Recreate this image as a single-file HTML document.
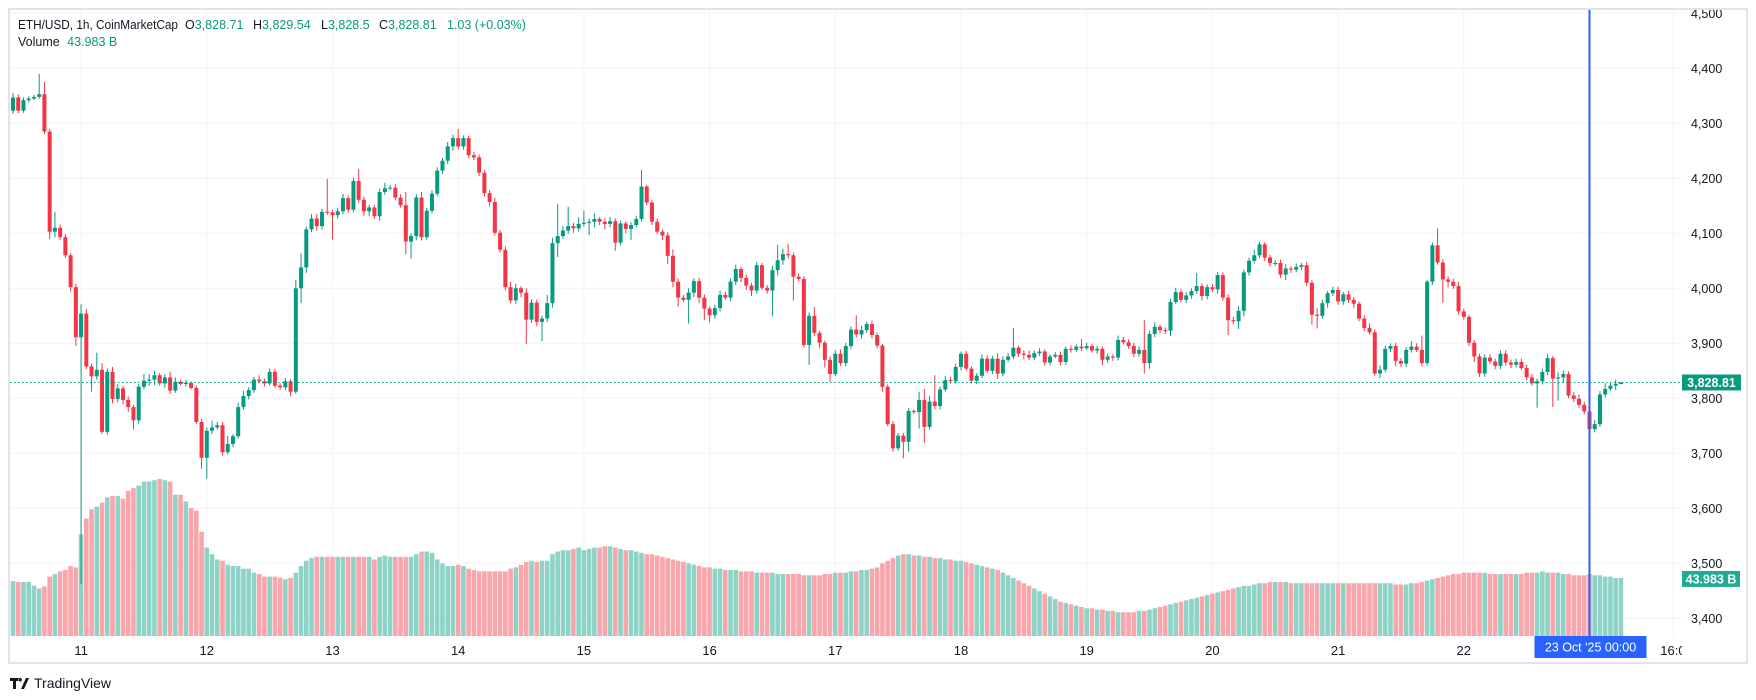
<!DOCTYPE html>
<html><head><meta charset="utf-8">
<style>
html,body{margin:0;padding:0;background:#fff;}
body{width:1756px;height:700px;overflow:hidden;font-family:"Liberation Sans",sans-serif;}
svg{display:block;}
</style></head>
<body>
<svg id="chart" width="1756" height="700" viewBox="0 0 1756 700" xmlns="http://www.w3.org/2000/svg">
  <rect x="0" y="0" width="1756" height="700" fill="#ffffff"/>
  <g id="grid"></g>
  <g id="vol"></g>
  <g id="candles"></g>
  <g id="overlay"></g>
  <g id="axes"></g>
  <rect x="9" y="9" width="1738" height="654" fill="none" stroke="#e0e3eb" stroke-width="2"/>
  <g font-size="12.5">
    <text x="18" y="29" fill="#131722" textLength="160" lengthAdjust="spacingAndGlyphs">ETH/USD, 1h, CoinMarketCap</text>
    <text y="29"><tspan x="185" fill="#131722">O</tspan><tspan fill="#089981">3,828.71</tspan><tspan x="253" fill="#131722">H</tspan><tspan fill="#089981">3,829.54</tspan><tspan x="321" fill="#131722">L</tspan><tspan fill="#089981">3,828.5</tspan><tspan x="379" fill="#131722">C</tspan><tspan fill="#089981">3,828.81</tspan><tspan x="447" fill="#089981">1.03 (+0.03%)</tspan></text>
    <text x="18" y="46" fill="#131722">Volume <tspan fill="#089981" dx="4">43.983 B</tspan></text>
  </g>
  <g>
    <path d="M10 678h9v3h-3v8h-3v-8h-3z M21 689l5-11h3l-5 11z M20 678a1.8 1.8 0 1 0 0.1 0z" fill="#131722"/>
    <text x="34" y="688" font-size="14" fill="#131722">TradingView</text>
  </g>
</svg>
<script>
const closes=[4347,4323,4342,4345,4348,4353,4285,4103,4110,4093,
4060,4002,3911,3954,3858,3840,3852,3739,3848,3799,
3818,3797,3784,3760,3821,3832,3834,3842,3827,3838,
3814,3830,3826,3828,3819,3757,3692,3741,3747,3751,
3702,3717,3731,3784,3804,3815,3834,3831,3827,3848,
3823,3820,3831,3812,4000,4038,4107,4127,4113,4139,
4138,4133,4140,4164,4143,4195,4161,4140,4147,4131,
4175,4182,4183,4165,4151,4085,4095,4165,4093,4141,
4172,4214,4232,4258,4273,4258,4273,4242,4238,4210,
4173,4157,4101,4070,4002,3978,4000,3992,3943,3974,
3939,3945,3973,4082,4095,4105,4113,4109,4117,4119,
4121,4126,4121,4117,4122,4083,4118,4108,4115,4126,
4185,4156,4121,4103,4096,4059,4012,3983,3979,3992,
4013,3983,3963,3951,3964,3988,3983,4012,4035,4019,
4005,3996,4042,4001,3996,4033,4051,4062,4060,4021,
4017,3897,3950,3919,3901,3870,3844,3881,3864,3895,
3925,3916,3924,3935,3915,3896,3821,3753,3709,3732,
3721,3777,3775,3797,3748,3794,3786,3816,3833,3831,
3857,3881,3854,3832,3841,3872,3850,3872,3845,3870,
3876,3892,3881,3879,3874,3882,3885,3865,3876,3879,
3866,3890,3888,3894,3891,3895,3887,3890,3870,3876,
3874,3906,3902,3895,3881,3888,3864,3917,3930,3924,
3923,3975,3993,3979,3987,3995,4004,3986,4002,3998,
4024,3983,3942,3940,3959,4029,4050,4060,4080,4056,
4046,4046,4025,4036,4034,4039,4042,4010,3952,3950,
3973,3991,3997,3976,3989,3979,3972,3945,3928,3920,
3845,3852,3890,3895,3868,3863,3888,3894,3888,3864,
4012,4078,4047,4016,4012,4004,3958,3948,3901,3876,
3845,3874,3867,3859,3881,3865,3861,3866,3855,3838,
3827,3831,3848,3873,3836,3838,3844,3805,3799,3788,
3776,3744,3753,3807,3817,3823,3826,3828.81];
const firstOpen=4323;
const upWick=[8,6,5,4,4,37,22,5,29,6,
6,4,6,17,8,5,31,12,6,9,
8,5,6,4,5,12,10,8,4,6,
10,8,4,5,3,4,5,6,12,6,
6,15,4,8,10,5,5,8,5,6,
6,4,6,4,15,25,5,8,8,6,
60,5,6,8,5,6,22,6,5,5,
6,10,5,6,6,24,5,6,10,5,
6,6,5,8,6,17,5,4,6,5,
5,6,8,5,6,10,8,4,8,6,
6,5,15,10,58,8,35,6,12,22,
6,10,4,6,8,5,5,4,5,6,
30,3,4,6,4,6,12,6,5,8,
5,6,6,4,6,8,6,6,8,4,
6,5,6,4,5,8,28,10,19,5,
6,5,6,16,4,4,6,6,8,6,
6,26,8,4,6,4,3,4,6,5,
5,5,3,15,20,10,48,5,8,6,
6,4,5,4,5,8,6,5,10,6,
6,36,4,6,8,5,6,4,4,5,
6,4,6,4,14,6,4,5,4,5,
4,8,6,5,6,6,54,6,8,4,
5,6,8,6,6,5,24,5,5,6,
6,5,6,6,8,5,6,10,4,4,
5,5,6,8,4,6,4,6,5,12,
6,4,6,6,4,6,5,4,6,8,
5,8,6,5,6,5,5,10,6,26,
3,5,31,6,6,5,8,5,4,5,
5,6,6,5,6,6,5,6,6,6,
6,5,6,8,4,10,6,5,6,8,
6,6,8,6,10,6,8,0.7];
const downWick=[6,5,4,4,3,3,5,14,10,5,
5,8,16,449,5,28,6,4,5,8,
6,8,9,17,6,5,9,10,4,8,
6,4,3,5,3,4,20,38,6,4,
6,4,6,4,5,6,5,4,6,4,
4,5,5,8,4,27,10,5,8,6,
5,44,6,5,6,5,5,8,9,5,
8,5,4,5,4,23,31,8,6,5,
4,5,6,6,8,5,6,5,5,6,
6,8,5,5,6,5,6,8,44,6,
8,35,6,8,25,5,6,8,6,5,
22,10,6,10,6,15,5,8,20,4,
5,5,6,4,8,15,10,16,4,43,
8,10,21,13,6,6,4,6,6,8,
8,10,6,4,6,46,10,8,6,43,
4,5,36,6,10,14,14,4,5,6,
5,6,8,5,6,5,9,4,6,4,
30,18,4,30,29,5,6,6,4,4,
4,6,4,5,6,4,4,6,10,5,
4,5,6,8,5,5,5,6,5,3,
6,5,5,4,5,3,4,6,10,5,
6,5,4,5,6,5,19,10,6,6,
6,10,4,5,6,6,5,8,6,5,
8,6,27,5,14,10,6,5,5,6,
6,5,6,10,6,5,6,6,18,23,
5,8,5,6,6,5,8,5,6,4,
4,8,5,6,10,6,6,5,4,6,
5,6,4,42,10,5,6,5,6,10,
6,6,5,6,6,6,6,5,4,5,
4,44,6,6,52,40,10,5,6,5,
5,26,6,5,6,4,8,0.3];
const volumes=[41.6,41,41,41,38,36,37.5,45,47,49,
50,53,52,77,89,96,98,101,105,106,
106,104,110,112,114,117,117,118,119,118,
117,107,107,102,97,95,79,67,62,58,
57,54,53,53,51,51,48,47,45,45,
45,44,43,44,48,53,57,59,60,60,
60,60,60,60,60,60,60,60,60,58,
60,61,60,60,60,60,60,62,64,64,
63,58,55,53,53,54,53,51,50,49,
49,49,49,49,49,51,52,54,56,57,
56,57,57,62,64,65,65,66,67,65,
66,67,67,68,68,67,66,65,65,64,
63,62,62,61,60,59,58,57,56,55,
54,53,52,52,51,51,50,50,50,49,
49,49,48,48,48,48,47,47,47,47,
47,46,46,46,46,47,47,48,48,48,
49,49,50,50,51,52,55,57,59,61,
62,62,61,61,60,60,59,59,58,58,
57,57,56,55,54,53,52,51,50,48,
46,44,42,40,38,36,34,32,30,28,
26,25,24,23,22,21,21,20,20,19,
19,18,18,18,18,19,19,20,21,22,
23,24,25,26,27,28,29,30,31,32,
33,34,35,36,37,38,38,39,40,40,
41,41,41,41,40,40,40,40,40,40,
40,40,40,40,40,40,40,40,40,40,
40,40,40,40,39,39,39,40,40,41,
42,43,44,45,46,47,47,48,48,48,
48,48,47,47,47,47,47,47,47,48,
48,48,49,48,48,48,47,47,46,46,
46,47,46,46,45,45,44,43.983];
const priceTicks=[3400,3500,3600,3700,3800,3900,4000,4100,4200,4300,4400,4500];
const dayLabels=["11","12","13","14","15","16","17","18","19","20","21","22"];
const firstDayIndex=13;
const lastPrice=3828.81;
const lastVolume=43.983;

const NS="http://www.w3.org/2000/svg";
const X0=13.0, STEP=5.2375, PLOT_RIGHT=1682, PLOT_BOTTOM=636;
function xScale(i){return X0+i*STEP;}
function yScale(p){return 398.3-(p-3800)*0.55;}
function vScale(v){return PLOT_BOTTOM-v*1.32;}
function mk(tag,attrs,parent){const e=document.createElementNS(NS,tag);for(const k in attrs)e.setAttribute(k,attrs[k]);parent.appendChild(e);return e;}
const G=document.getElementById('grid'),V=document.getElementById('vol'),C=document.getElementById('candles'),O=document.getElementById('overlay'),A=document.getElementById('axes');

priceTicks.forEach(p=>{
  const y=yScale(p);
  const l=mk('line',{x1:10,x2:PLOT_RIGHT,y1:y,y2:y,stroke:'#f0f3fa','stroke-width':1},G);
  
  
  const t=mk('text',{x:1691,y:y+4.5,'font-size':12.5,fill:'#131722'},A);
  t.textContent=p.toLocaleString('en-US');
  
  
});
dayLabels.forEach((d,k)=>{
  const x=xScale(firstDayIndex+24*k);
  const l=mk('line',{x1:x,x2:x,y1:10,y2:PLOT_BOTTOM,stroke:'#f0f3fa','stroke-width':1},G);
  
  
  const t=mk('text',{x:x,y:655,'font-size':13,fill:'#131722','text-anchor':'middle'},A);
  t.textContent=d;
  
  
});
{const x=xScale(firstDayIndex+24*12+16);
 const l=mk('line',{x1:x,x2:x,y1:10,y2:PLOT_BOTTOM,stroke:'#f0f3fa','stroke-width':1},G);
 
 
 const t=mk('text',{x:x-13,y:655,'font-size':13,fill:'#131722'},A);
 t.textContent='16:00';
 
 
 const cover=mk('rect',{x:PLOT_RIGHT,y:640,width:60,height:20,fill:'#fff'},A);
 
 
}

closes.forEach((c,i)=>{
  const o=i===0?firstOpen:closes[i-1];
  const up=c>=o;
  const x=xScale(i);
  const vy=vScale(volumes[i]);
  const vb=mk('rect',{x:x-2.3,y:vy,width:4.6,height:PLOT_BOTTOM-vy,fill:up?'#8fd3c7':'#f8a6ac'},V);
  
  
  const hi=Math.max(o,c)+upWick[i], lo=Math.min(o,c)-downWick[i];
  const col=up?'#089981':'#f23645';
  const w=mk('line',{x1:x,x2:x,y1:yScale(hi),y2:yScale(lo),stroke:col,'stroke-width':1},C);
  
  
  const yt=yScale(Math.max(o,c)), yb=yScale(Math.min(o,c));
  const b=mk('rect',{x:x-2,y:yt,width:4,height:Math.max(1,yb-yt),fill:col},C);
  
  
});

const ly=yScale(lastPrice);
const dl=mk('line',{x1:10,x2:PLOT_RIGHT,y1:ly,y2:ly,stroke:'#089981','stroke-width':1,'stroke-dasharray':'1.5 2.5'},O);


const cx=xScale(firstDayIndex+24*12);
const cl=mk('line',{x1:cx,x2:cx,y1:9,y2:PLOT_BOTTOM,stroke:'#2962ff','stroke-width':2},O);


const cb=mk('rect',{x:cx-55,y:636,width:112,height:22,fill:'#2962ff'},O);


const ct=mk('text',{x:cx+1,y:651.5,'font-size':12.5,fill:'#ffffff','text-anchor':'middle','xml:space':'preserve'},O);
ct.textContent="23 Oct '25   00:00";


const pt=mk('rect',{x:1682,y:ly-8,width:59,height:16,fill:'#089981'},O);


const ptt=mk('text',{x:1711.5,y:ly+4.5,'font-size':12.5,'font-weight':'bold',fill:'#ffffff','text-anchor':'middle'},O);
ptt.textContent=lastPrice.toLocaleString('en-US',{minimumFractionDigits:2});


const vty=vScale(lastVolume);
const vt=mk('rect',{x:1682,y:vty-7,width:58,height:16,fill:'#22ab94'},O);


const vtt=mk('text',{x:1711,y:vty+5.5,'font-size':12.5,'font-weight':'bold',fill:'#ffffff','text-anchor':'middle'},O);
vtt.textContent=lastVolume.toFixed(3)+' B';


</script>
</body></html>
